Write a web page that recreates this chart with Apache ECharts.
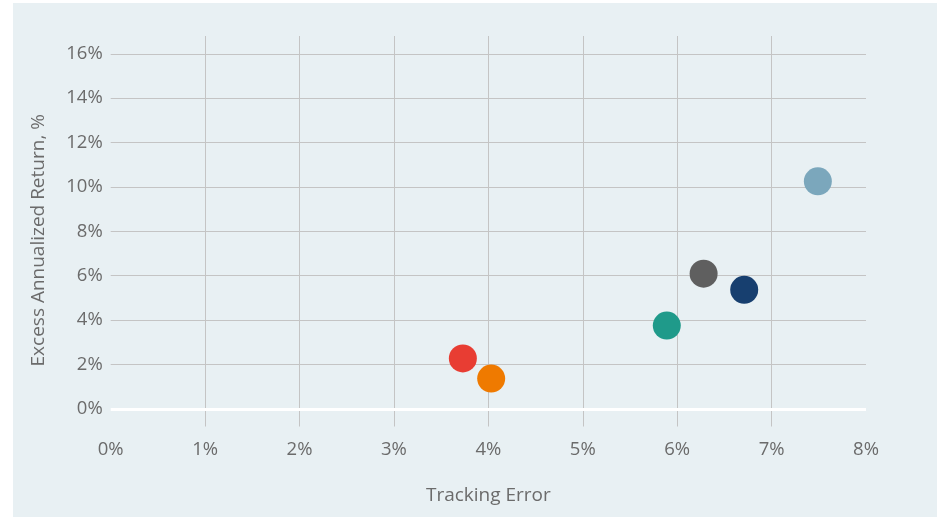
<!DOCTYPE html>
<html lang="en">
<head>
  <meta charset="UTF-8">
  <title>Tracking Error vs Excess Return</title>
  <script src="https://cdn.jsdelivr.net/npm/echarts@6/dist/echarts.min.js"></script>
  <style>
    body { margin: 0; background: #ffffff; }
    #chart { width: 940px; height: 517px; }
  </style>
</head>
<body>
  <div id="chart"></div>
  <script>
    // data (percent)
    const trackingError = [3.73, 4.03, 5.89, 6.28, 6.71, 7.49];
    const excessReturn = [2.27, 1.36, 3.75, 6.09, 5.36, 10.25];
    const pointColors = ['#e83d33', '#ef7a00', '#1f9a8a', '#5f5f5f', '#173f6f', '#7ba7bc'];
    const yTicks = [0, 2, 4, 6, 8, 10, 12, 14, 16];
    const xTicks = [0, 1, 2, 3, 4, 5, 6, 7, 8];

    const textColor = '#6b6b6b';
    const gridColor = '#c4c4c4';
    const font = '"Open Sans", sans-serif';

    const points = trackingError.map((x, i) => ({
      value: [x, excessReturn[i]],
      itemStyle: { color: pointColors[i], opacity: 1 }
    }));

    const chart = echarts.init(document.getElementById('chart'));
    chart.setOption({
      animation: false,
      graphic: [{
        type: 'rect',
        z: -10,
        shape: { x: 13, y: 3, width: 924, height: 514 },
        style: { fill: '#e8f0f3' }
      }],
      grid: { left: 110.7, right: 74, top: 36, bottom: 90.5 },
      xAxis: {
        type: 'value',
        min: 0,
        max: 8,
        interval: 1,
        axisLine: { show: false },
        axisTick: { show: false },
        axisLabel: {
          formatter: v => v + '%',
          color: textColor, fontFamily: font, fontSize: 18.5, margin: 14
        },
        splitLine: {
          // no line at 0% and 8%
          lineStyle: { color: xTicks.map((t, i) => (i === 0 || i === xTicks.length - 1) ? 'rgba(0,0,0,0)' : gridColor), width: 1 }
        },
        name: 'Tracking Error',
        nameLocation: 'middle',
        nameGap: 60,
        nameTextStyle: { color: textColor, fontFamily: font, fontSize: 19 }
      },
      yAxis: {
        type: 'value',
        min: -0.8,
        max: 16.8,
        axisLine: { show: false },
        axisTick: { show: false, customValues: yTicks },
        axisLabel: {
          customValues: yTicks,
          formatter: v => v + '%',
          color: textColor, fontFamily: font, fontSize: 18.5, margin: 8
        },
        splitLine: {
          lineStyle: { color: yTicks.map((t, i) => i === 0 ? 'rgba(0,0,0,0)' : gridColor), width: 1 }
        },
        name: 'Excess Annualized Return, %',
        nameLocation: 'middle',
        nameGap: 63,
        nameTextStyle: { color: textColor, fontFamily: font, fontSize: 19, padding: [0, 18, 0, 0] }
      },
      series: [{
        type: 'scatter',
        symbolSize: 28,
        data: points,
        markLine: {
          silent: true,
          symbol: 'none',
          label: { show: false },
          lineStyle: { color: '#ffffff', width: 3, type: 'solid' },
          data: [{ yAxis: 0 }]
        },
        z: 3
      }]
    });
  </script>
</body>
</html>
